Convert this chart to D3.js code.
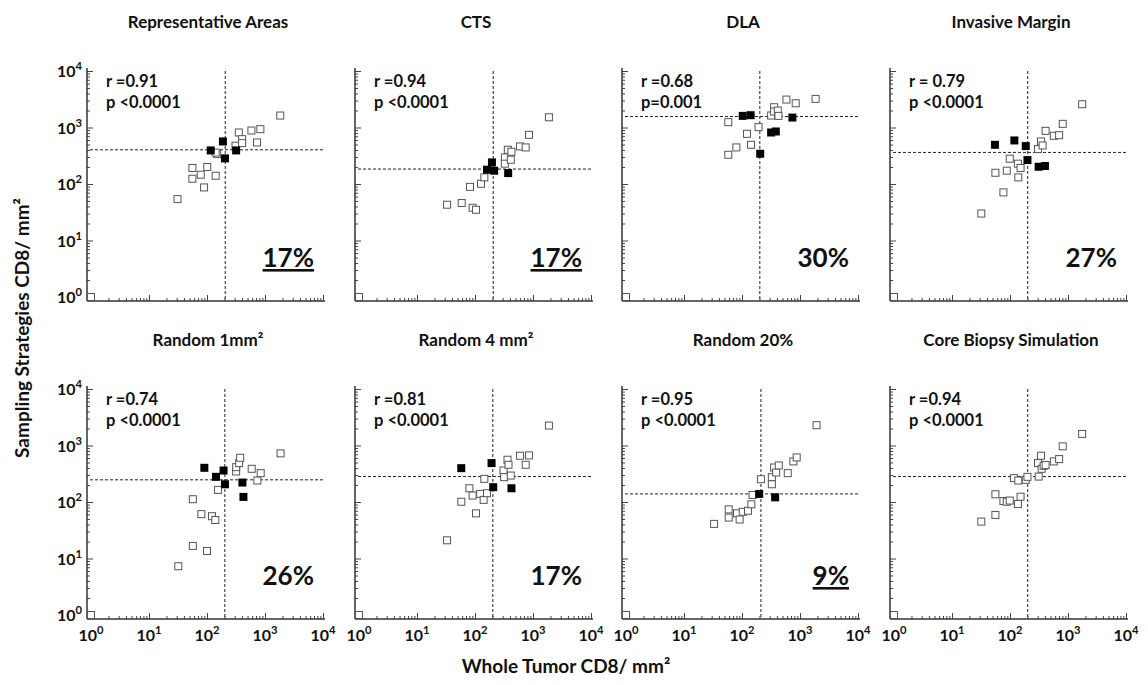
<!DOCTYPE html>
<html>
<head>
<meta charset="utf-8">
<script src="https://cdn.jsdelivr.net/npm/d3@7"></script>
<style>
  body { margin: 0; background: #fff; }
  svg { display: block; font-family: Lato, "Open Sans", sans-serif; font-weight: bold; }
</style>
</head>
<body>
<div id="chart"></div>
<script>
// panel texts
const titles = ["Representative Areas", "CTS", "DLA", "Invasive Margin",
                "Random 1mm²", "Random 4 mm²", "Random 20%", "Core Biopsy Simulation"];
const rLabels = ["r =0.91", "r =0.94", "r =0.68", "r = 0.79", "r =0.74", "r =0.81", "r =0.95", "r =0.94"];
const pLabels = ["p <0.0001", "p <0.0001", "p=0.001", "p <0.0001", "p <0.0001", "p <0.0001", "p <0.0001", "p <0.0001"];
const pctLabels = ["17%", "17%", "30%", "27%", "26%", "17%", "9%", ""];
const pctUnderlined = [true, true, false, false, false, false, true, false];

// cut-offs (dashed lines): whole tumor (x) and sampling strategy (y)
const cutoffX = [206, 206, 203, 202, 203, 203, 212, 202];
const cutoffY = [403, 184, 1563, 362, 247, 282, 139, 282];

const decades = [1, 10, 100, 1000, 10000];
const exponents = ["0", "1", "2", "3", "4"];

// [whole tumor, sampling strategy] per patient
const repOpen = [[1,1],[31,54],[56,192],[56,124],[78,146],[89,87],[101,200],[141,140],[150,338],[141,360],[310,475],[354,816],[403,622],[403,529],[583,885],[729,543],[832,934],[1832,1629]];
const repFilled = [[116,393],[188,566],[204,284],[318,393]];

const ctsOpen = [[1,1],[33,43],[59,46],[82,89],[91,38],[104,35],[127,101],[145,131],[327,295],[327,229],[368,403],[425,372],[414,269],[598,462],[748,444],[853,742],[1880,1517]];
const ctsFilled = [[161,179],[196,241],[214,172],[373,156]];

const dlaOpen = [[1,1],[58,1242],[58,329],[80,444],[122,773],[143,494],[193,1014],[318,1629],[358,2285],[358,1915],[414,1995],[425,1606],[583,3121],[843,2687],[1857,3206]];
const dlaFilled = [[103,1606],[141,1650],[206,343],[318,816],[383,850],[739,1500]];

const imOpen = [[1,1],[32,30],[56,158],[77,71],[88,172],[99,280],[137,229],[139,131],[152,192],[304,415],[342,566],[365,481],[411,873],[570,713],[703,732],[811,1161],[1754,2582]];
const imFilled = [[55,494],[119,590],[187,469],[200,265],[312,202],[400,208]];

const r1Open = [[1,1],[32,7.3],[57,16.7],[57,112],[80,61],[100,13.6],[122,56],[139,48],[155,164],[318,347],[318,414],[358,488],[373,607],[590,387],[739,240],[843,324],[1857,726]];
const r1Filled = [[90,403],[143,279],[193,361],[204,206],[408,221],[425,123]];

const r4Open = [[1,1],[33,21],[58,101],[80,175],[91,130],[104,63],[123,139],[141,109],[145,257],[161,143],[310,361],[318,275],[363,560],[378,456],[414,294],[598,659],[748,456],[853,668],[1880,2254]];
const r4Filled = [[58,397],[193,488],[206,183],[425,175]];

const r20Open = [[1,1],[33,41],[59,74],[59,53],[82,63],[91,49],[103,67],[127,70],[145,91],[152,133],[212,253],[327,275],[327,206],[358,408],[388,333],[431,444],[615,324],[769,523],[877,615],[1931,2285]];
const r20Filled = [[198,139],[373,121]];

const coreOpen = [[1,1],[32,45],[56,59],[56,137],[77,104],[88,101],[99,106],[137,92],[152,124],[117,264],[139,240],[187,247],[200,279],[312,282],[304,488],[342,659],[351,387],[380,437],[411,450],[570,523],[703,575],[811,967],[1754,1603]];
const coreFilled = [];

const openSets = [repOpen, ctsOpen, dlaOpen, imOpen, r1Open, r4Open, r20Open, coreOpen];
const filledSets = [repFilled, ctsFilled, dlaFilled, imFilled, r1Filled, r4Filled, r20Filled, coreFilled];

const width = 1148, height = 685;
const colX = [87, 355, 622, 890];   // y-axis line of each column
const rowY = [301, 619];            // x-axis line of each row

const svg = d3.select("#chart").append("svg")
    .attr("width", width)
    .attr("height", height);

const minor = [];
for (let d = 1; d < 10000; d *= 10)
    for (let k = 2; k <= 9; k++) minor.push(d * k);

function powLabel(text, e, size) {
    text.append("tspan").text("10");
    text.append("tspan").attr("dy", -7).attr("font-size", size * 0.7).text(e);
}

titles.forEach((title, i) => {
    const col = i % 4, row = Math.floor(i / 4);
    const ax = colX[col], ay = rowY[row];

    const x = d3.scaleLog().domain([1, 10000]).range([ax + 4, ax + 236]);
    const y = d3.scaleLog().domain([1, 10000]).range([ay - 4, ay - 230]);

    const g = svg.append("g");

    // title
    g.append("text")
        .attr("x", ax + 121)
        .attr("y", y(10000) - 43)
        .attr("text-anchor", "middle")
        .attr("font-size", 17)
        .attr("fill", "#111")
        .text(title);

    // ticks (inside)
    const xg = g.append("g").attr("transform", `translate(0,${ay})`);
    xg.call(d3.axisBottom(x).tickValues(decades).tickSize(-6).tickFormat(""));
    xg.call(g2 => g2.append("g").call(d3.axisBottom(x).tickValues(minor).tickSize(-3).tickFormat("")));
    const yg = g.append("g").attr("transform", `translate(${ax},0)`);
    yg.call(d3.axisLeft(y).tickValues(decades).tickSize(-6).tickFormat(""));
    yg.call(g2 => g2.append("g").call(d3.axisLeft(y).tickValues(minor).tickSize(-3).tickFormat("")));
    g.selectAll(".domain").remove();
    g.selectAll(".tick line").attr("stroke", "#444");

    // axis lines
    g.append("line").attr("x1", ax).attr("x2", ax + 238).attr("y1", ay).attr("y2", ay)
        .attr("stroke", "#333").attr("stroke-width", 1.5);
    g.append("line").attr("x1", ax).attr("x2", ax).attr("y1", ay).attr("y2", ay - 233)
        .attr("stroke", "#333").attr("stroke-width", 1.5);

    // tick labels
    if (col === 0) {
        decades.forEach((v, k) => {
            const t = g.append("text")
                .attr("x", ax - 5)
                .attr("y", y(v) + 6)
                .attr("text-anchor", "end")
                .attr("font-size", 16)
                .attr("fill", "#111");
            powLabel(t, exponents[k], 16);
        });
    }
    if (row === 1) {
        decades.forEach((v, k) => {
            const t = g.append("text")
                .attr("x", x(v))
                .attr("y", ay + 22)
                .attr("text-anchor", "middle")
                .attr("font-size", 16)
                .attr("fill", "#111");
            powLabel(t, exponents[k], 16);
        });
    }

    // cut-off lines
    g.append("line")
        .attr("x1", x(cutoffX[i])).attr("x2", x(cutoffX[i]))
        .attr("y1", y(10000)).attr("y2", ay)
        .attr("stroke", "#222").attr("stroke-dasharray", "3,2");
    g.append("line")
        .attr("x1", ax + 3).attr("x2", ax + 238)
        .attr("y1", y(cutoffY[i])).attr("y2", y(cutoffY[i]))
        .attr("stroke", "#222").attr("stroke-dasharray", "3,2");

    // points
    const s = 7;
    g.selectAll(".open")
        .data(openSets[i])
        .enter().append("rect")
        .attr("class", "open")
        .attr("x", d => x(d[0]) - s / 2)
        .attr("y", d => y(d[1]) - s / 2)
        .attr("width", s).attr("height", s)
        .attr("fill", "#fff")
        .attr("stroke", "#555")
        .attr("stroke-width", 1);
    g.selectAll(".filled")
        .data(filledSets[i])
        .enter().append("rect")
        .attr("class", "filled")
        .attr("x", d => x(d[0]) - 4)
        .attr("y", d => y(d[1]) - 4)
        .attr("width", 8).attr("height", 8)
        .attr("fill", "#000");

    // stats text
    g.append("text")
        .attr("x", ax + 19)
        .attr("y", y(10000) + 16)
        .attr("font-size", 16.5)
        .attr("fill", "#111")
        .text(rLabels[i]);
    g.append("text")
        .attr("x", ax + 19)
        .attr("y", y(10000) + 37)
        .attr("font-size", 16.5)
        .attr("fill", "#111")
        .text(pLabels[i]);

    if (pctLabels[i]) {
        const pct = g.append("text")
            .attr("x", ax + 227)
            .attr("y", ay - 34)
            .attr("text-anchor", "end")
            .attr("font-size", 26)
            .attr("fill", "#111")
            .text(pctLabels[i]);
        if (pctUnderlined[i]) pct.attr("text-decoration", "underline");
    }
});

// axis titles
svg.append("text")
    .attr("transform", "translate(29,328) rotate(-90)")
    .attr("text-anchor", "middle")
    .attr("font-size", 19)
    .attr("fill", "#111")
    .text("Sampling Strategies CD8/ mm²");

svg.append("text")
    .attr("x", 566)
    .attr("y", 673)
    .attr("text-anchor", "middle")
    .attr("font-size", 19)
    .attr("fill", "#111")
    .text("Whole Tumor CD8/ mm²");
</script>
</body>
</html>
